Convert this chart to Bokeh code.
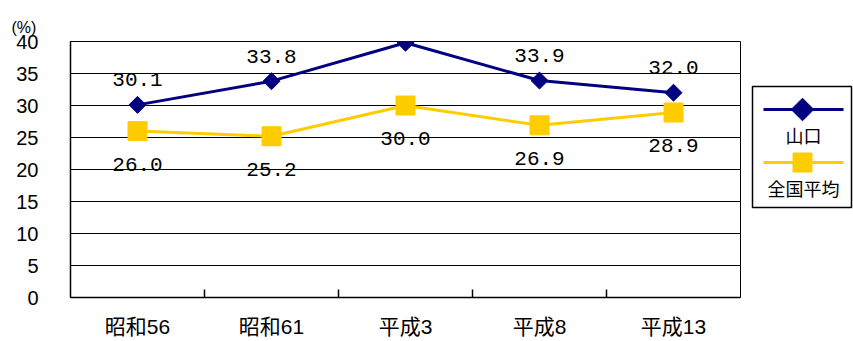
from bokeh.plotting import figure
from bokeh.layouts import row
from bokeh.models import Range1d, FixedTicker, Title
from bokeh.core.properties import value
from bokeh.embed import file_html
from bokeh.resources import INLINE

# Survey years and shares (%)
years = ["昭和56", "昭和61", "平成3", "平成8", "平成13"]
yamaguchi = [30.1, 33.8, 39.8, 33.9, 32.0]
national = [26.0, 25.2, 30.0, 26.9, 28.9]
series_names = ["山口", "全国平均"]
y_ticks = [0, 5, 10, 15, 20, 25, 30, 35, 40]

NAVY = "#000080"
GOLD = "#FFCC00"
SANS = "Liberation Sans, Noto Sans CJK JP"
MONO = "Liberation Mono"

xs = list(range(len(years)))

p = figure(width=750, height=341, output_backend="svg", toolbar_location=None,
           x_range=Range1d(-0.5, len(years) - 0.5), y_range=Range1d(0, 40),
           min_border_left=70, min_border_right=10, min_border_top=41,
           min_border_bottom=44)
p.background_fill_color = "white"
p.border_fill_color = "white"
p.outline_line_color = "black"
p.outline_line_width = 1

# unit caption at the top-left, above the y tick labels
p.add_layout(Title(text="(%)", align="left", offset=-59, standoff=12,
                   text_font=SANS, text_font_size="16px",
                   text_font_style="normal", text_color="black"), "above")

# y axis
p.yaxis.ticker = FixedTicker(ticks=y_ticks)
p.yaxis.major_tick_out = 0
p.yaxis.major_tick_in = 0
p.yaxis.minor_tick_out = 0
p.yaxis.minor_tick_in = 0
p.yaxis.major_label_standoff = 32
p.yaxis.major_label_text_font = SANS
p.yaxis.major_label_text_font_size = "20px"
p.yaxis.major_label_text_color = "black"
p.yaxis.axis_line_color = "black"
p.yaxis.axis_line_width = 1.5

# x axis: labels at category centres, short inward ticks at boundaries
p.xaxis.ticker = FixedTicker(ticks=xs, minor_ticks=[i + 0.5 for i in xs[:-1]])
p.xaxis.major_label_overrides = {i: y for i, y in zip(xs, years)}
p.xaxis.major_tick_out = 0
p.xaxis.major_tick_in = 0
p.xaxis.minor_tick_in = 8
p.xaxis.minor_tick_out = 0
p.xaxis.minor_tick_line_color = "black"
p.xaxis.minor_tick_line_width = 1.5
p.xaxis.major_label_standoff = 17
p.xaxis.major_label_text_font = SANS
p.xaxis.major_label_text_font_size = "21px"
p.xaxis.major_label_text_color = "black"
p.xaxis.axis_line_color = "black"
p.xaxis.axis_line_width = 1.5

p.xgrid.visible = False
p.ygrid.ticker = FixedTicker(ticks=y_ticks)
p.ygrid.grid_line_color = "black"
p.ygrid.grid_line_width = 1

# series
p.line(xs, yamaguchi, line_color=NAVY, line_width=3)
p.scatter(xs, yamaguchi, marker="square", size=12, angle=0.785398,
          fill_color=NAVY, line_color=NAVY)
p.line(xs, national, line_color=GOLD, line_width=3)
p.scatter(xs, national, marker="square", size=19, fill_color=GOLD, line_color=GOLD)

# value labels
p.text(xs, yamaguchi, text=[f"{v:.1f}" for v in yamaguchi], y_offset=-25,
       text_align="center", text_baseline="middle", text_font=value(MONO),
       text_font_size="21px", text_color="black")
p.text(xs, national, text=[f"{v:.1f}" for v in national], y_offset=33,
       text_align="center", text_baseline="middle", text_font=value(MONO),
       text_font_size="21px", text_color="black")

# legend panel: same frame height as the chart, pixel-aligned coordinates
leg = figure(width=103, height=341, output_backend="svg", toolbar_location=None,
             x_range=Range1d(0, 103), y_range=Range1d(297, 41),
             min_border_left=0, min_border_right=0,
             min_border_top=41, min_border_bottom=44)
leg.axis.visible = False
leg.grid.visible = False
leg.outline_line_color = None
leg.background_fill_color = "white"
leg.border_fill_color = "white"

leg.quad(left=[2], right=[101], top=[86], bottom=[207], fill_color="white",
         line_color="black", line_width=1.5)
leg.line([13, 93], [109, 109], line_color=NAVY, line_width=3)
leg.scatter([52], [109], marker="square", size=16, angle=0.785398,
            fill_color=NAVY, line_color=NAVY)
leg.line([13, 93], [162, 162], line_color=GOLD, line_width=3)
leg.scatter([52], [162], marker="square", size=19, fill_color=GOLD, line_color=GOLD)
leg.text([53, 53], [136, 189], text=series_names, text_align="center",
         text_baseline="middle", text_font=value(SANS), text_font_size="18px",
         text_color="black")

layout = row(p, leg, spacing=0)

with open("out.html", "w") as f:
    f.write(file_html(layout, INLINE))
